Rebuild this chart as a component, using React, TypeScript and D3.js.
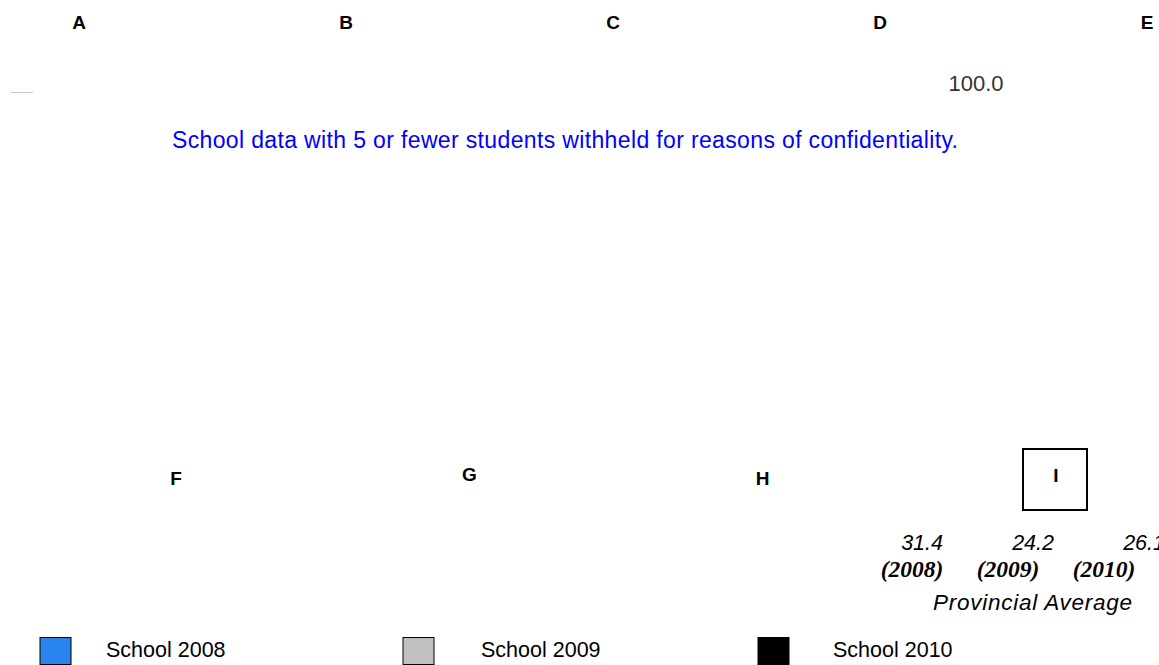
import React from "react";
import * as d3 from "d3";

const topCategories = ["A", "B", "C", "D", "E"];
const bottomCategories = ["F", "G", "H", "I"];
const highlightedCategory = "I";
const schoolValueLabels = ["100.0"];
const provincialValues = [31.4, 24.2, 26.1];
const provincialYears = [2008, 2009, 2010];
const legendSeries = ["School 2008", "School 2009", "School 2010"];
const legendColors = ["#2a84ee", "#c0c0c0", "#000000"];
const noteText = "School data with 5 or fewer students withheld for reasons of confidentiality.";
const provincialTitle = "Provincial Average";

const W = 1159;
const H = 665;
const SANS = "'Liberation Sans', Arial, Helvetica, sans-serif";
const SERIF = "'Liberation Serif', 'Times New Roman', serif";

export default function App() {
  const xTop = d3.scalePoint<string>().domain(topCategories).range([79, 1147]);
  const xBottom = d3.scalePoint<string>().domain(bottomCategories).range([176, 1056]);
  const bottomY = d3.scaleOrdinal<string, number>().domain(bottomCategories).range([485, 481, 485, 482]);
  const provIdx = provincialValues.map((_, i) => String(i));
  const xProvVal = d3.scalePoint<string>().domain(provIdx).range([943, 1165]);
  const xProvYear = d3.scalePoint<string>().domain(provIdx).range([912, 1104]);
  const xLegendBox = d3.scaleOrdinal<string, number>().domain(legendSeries).range([40, 403, 758]);
  const xLegendText = d3.scaleOrdinal<string, number>().domain(legendSeries).range([106, 481, 833]);
  const fmt = d3.format(".1f");

  const bx = xBottom(highlightedCategory)!;

  return (
    <svg
      width={W}
      height={H}
      style={{ position: "absolute", left: 0, top: 0, background: "#fff" }}
    >
      <rect x={0} y={0} width={W} height={H} fill="#fff" />
      {topCategories.map((c) => (
        <text
          key={c}
          x={xTop(c)}
          y={29}
          textAnchor="middle"
          fontFamily={SANS}
          fontWeight="bold"
          fontSize={19}
          fill="#000"
        >
          {c}
        </text>
      ))}
      <line x1={11} x2={33} y1={92.5} y2={92.5} stroke="#c8c8c8" strokeWidth={1} />
      {schoolValueLabels.map((l) => (
        <text key={l} x={976} y={91} textAnchor="middle" fontFamily={SANS} fontSize={22} fill="#333">
          {l}
        </text>
      ))}
      <text x={172} y={148} fontFamily={SANS} fontSize={23} fill="#0000ff" textLength={786} lengthAdjust="spacing">
        {noteText}
      </text>
      {bottomCategories.map((c) => (
        <text
          key={c}
          x={xBottom(c)}
          y={bottomY(c)}
          textAnchor="middle"
          fontFamily={SANS}
          fontWeight="bold"
          fontSize={19}
          fill="#000"
        >
          {c}
        </text>
      ))}
      <rect x={bx - 33} y={449} width={64} height={61} fill="none" stroke="#000" strokeWidth={2} />
      {provincialValues.map((v, i) => (
        <text
          key={"pv" + i}
          x={xProvVal(String(i))}
          y={550}
          textAnchor="end"
          fontFamily={SANS}
          fontStyle="italic"
          fontSize={21.5}
          fill="#000"
        >
          {fmt(v)}
        </text>
      ))}
      {provincialYears.map((y, i) => (
        <text
          key={"py" + i}
          x={xProvYear(String(i))}
          y={577}
          textAnchor="middle"
          fontFamily={SERIF}
          fontStyle="italic"
          fontWeight="bold"
          fontSize={23.5}
          fill="#000"
        >
          {`(${y})`}
        </text>
      ))}
      <text
        x={933}
        y={610}
        fontFamily={SANS}
        fontStyle="italic"
        fontSize={22.5}
        fill="#000"
        textLength={199}
        lengthAdjust="spacing"
      >
        {provincialTitle}
      </text>
      {legendSeries.map((s, i) => (
        <g key={s}>
          <rect
            x={xLegendBox(s)}
            y={637.5}
            width={31}
            height={27}
            fill={legendColors[i]}
            stroke="#000"
            strokeWidth={1}
          />
          <text x={xLegendText(s)} y={657} fontFamily={SANS} fontSize={21.5} fill="#000">
            {s}
          </text>
        </g>
      ))}
    </svg>
  );
}
